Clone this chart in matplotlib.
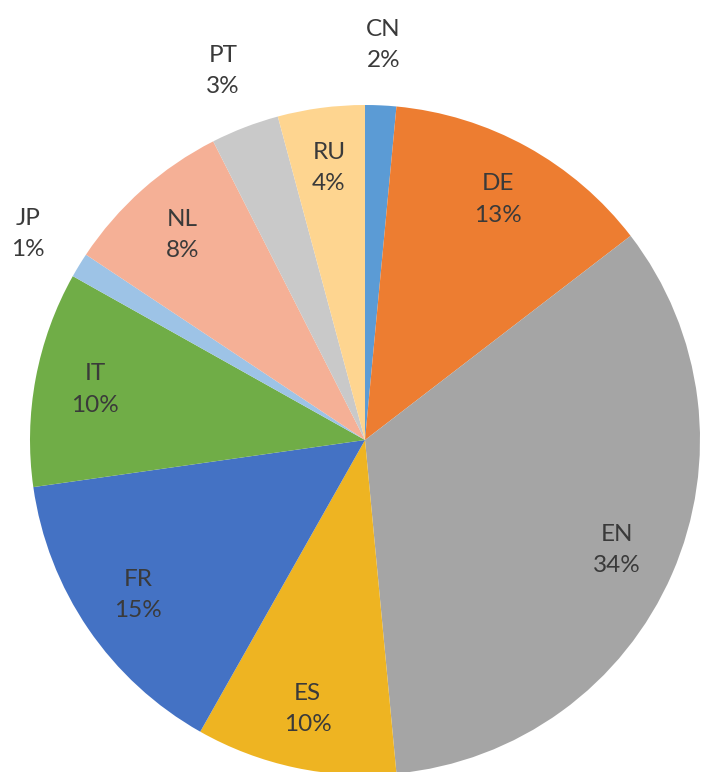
import matplotlib.pyplot as plt
import numpy as np

# Share of each language
languages = ['CN', 'DE', 'EN', 'ES', 'FR', 'IT', 'JP', 'NL', 'PT', 'RU']
shares = [1.5, 13.1, 34.0, 9.7, 14.6, 10.4, 1.2, 8.2, 3.3, 4.2]
pct_labels = ['2%', '13%', '34%', '10%', '15%', '10%', '1%', '8%', '3%', '4%']
colors = ['#5B9BD5', '#ED7D31', '#A5A5A5', '#EEB422', '#4472C4',
          '#70AD47', '#9DC3E6', '#F5B096', '#C9C9C9', '#FED590']
outside = ['CN', 'JP', 'PT']

fig = plt.figure(figsize=(7.15, 7.72), dpi=100)
ax = fig.add_axes([0, 0, 1, 1])

cx, cy, R = 365, 332, 335
wedges, _ = ax.pie(shares, colors=colors, startangle=90, counterclock=False,
                   center=(cx, cy), radius=R, frame=True,
                   wedgeprops=dict(linewidth=0))
ax.set_xlim(0, 715)
ax.set_ylim(0, 772)
ax.set_aspect('equal')
ax.axis('off')

for w, lang, pct in zip(wedges, languages, pct_labels):
    mid = np.deg2rad((w.theta1 + w.theta2) / 2)
    r = 1.18 if lang in outside else 0.82
    x = cx + r * R * np.cos(mid)
    y = cy + r * R * np.sin(mid)
    ax.text(x, y, f'{lang}\n{pct}', ha='center', va='center',
            fontsize=17.5, color='#3A3A3A', family='Lato', linespacing=1.6)

fig.savefig('out.png', dpi=100)
